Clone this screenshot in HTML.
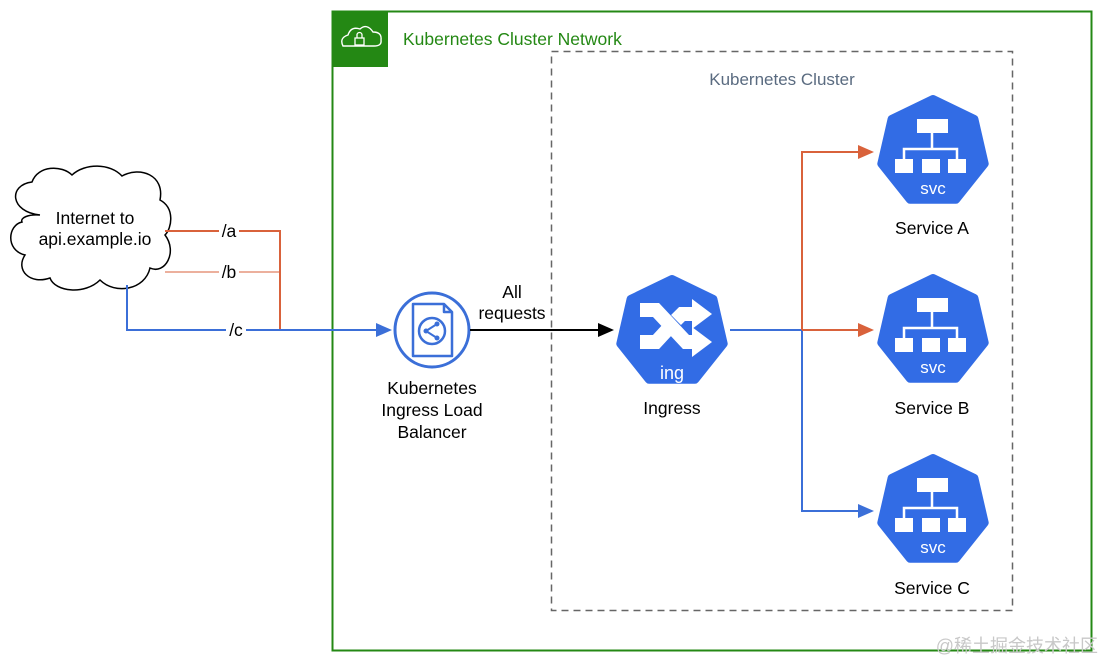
<!DOCTYPE html>
<html><head><meta charset="utf-8"><style>
html,body{margin:0;padding:0;background:#fff;}
svg{display:block;font-family:"Liberation Sans",Arial,sans-serif;}
</style></head><body>
<svg width="1103" height="662" viewBox="0 0 1103 662" xmlns="http://www.w3.org/2000/svg">
<defs>
<polygon id="hep" points="0,-53 41.4,-33 51.7,11.8 23,47.8 -23,47.8 -51.7,11.8 -41.4,-33" fill="#326ce5" stroke="#326ce5" stroke-width="8" stroke-linejoin="round"/>
<g id="svc">
<use href="#hep"/>
<rect x="-16" y="-33" width="31" height="14" fill="#fff"/>
<rect x="-38" y="7" width="18" height="14" fill="#fff"/>
<rect x="-11" y="7" width="18" height="14" fill="#fff"/>
<rect x="15" y="7" width="18" height="14" fill="#fff"/>
<path d="M-1,-19 V-3 M-29,7 V-3 H24 V7" stroke="#fff" stroke-width="2.5" fill="none"/>
<text x="0" y="42" font-size="17" fill="#fff" text-anchor="middle">svc</text>
</g>
</defs>
<rect x="332.5" y="11.5" width="759" height="639" fill="none" stroke="#248814" stroke-width="2"/>
<rect x="332" y="11" width="56" height="56" fill="#248814"/>
<path d="M343,46 q-4,-8 5,-11 q3,-9 12,-6 q7,-6 13,3 q9,0 8,8 q1,6 -7,6 z" fill="none" stroke="#fff" stroke-width="1.4"/>
<rect x="355" y="38" width="9" height="7" fill="none" stroke="#fff" stroke-width="1.3"/>
<path d="M357,38 v-3 a2.5,2.5 0 0 1 5,0 v3" fill="none" stroke="#fff" stroke-width="1.3"/>
<text x="403" y="45" font-size="17.5" fill="#248814">Kubernetes Cluster Network</text>
<rect x="551.5" y="51.5" width="461" height="559" fill="none" stroke="#666" stroke-width="1.5" stroke-dasharray="7,5"/>
<text x="782" y="85" font-size="17" fill="#5a6b80" text-anchor="middle">Kubernetes Cluster</text>
<path d="M40,215 C10,212 8,185 32,182 C38,165 62,165 72,175 C85,163 110,163 122,176 C140,166 165,175 160,200 C175,208 172,228 165,235 C178,252 165,275 150,268 C145,290 115,295 100,280 C85,295 55,292 50,278 C30,285 15,270 25,255 C5,250 8,225 22,222 C20,218 28,214 40,215 Z" fill="#fff" stroke="#000" stroke-width="1.5"/>
<text x="95" y="224" font-size="17.5" text-anchor="middle">Internet to</text>
<text x="95" y="245" font-size="17.5" text-anchor="middle">api.example.io</text>
<path d="M165,231 H280 V330" stroke="#d9623b" stroke-width="2" fill="none"/>
<path d="M165,272 H280" stroke="#d9623b" stroke-width="1" fill="none"/>
<path d="M127,285 V330 H382" stroke="#3b6fd8" stroke-width="2" fill="none"/>
<polygon points="376,323 392,330 376,337" fill="#3b6fd8"/>
<rect x="219" y="222" width="20" height="18" fill="#fff"/><text x="229" y="237" font-size="17.5" text-anchor="middle">/a</text>
<rect x="219" y="263" width="20" height="18" fill="#fff"/><text x="229" y="278" font-size="17.5" text-anchor="middle">/b</text>
<rect x="226" y="321" width="20" height="18" fill="#fff"/><text x="236" y="336" font-size="17.5" text-anchor="middle">/c</text>
<circle cx="432" cy="330" r="37" fill="#fff" stroke="#3b6fd8" stroke-width="3"/>
<path d="M413,304 H444 L452,312 V356 H413 Z M444,304 V312 H452" fill="none" stroke="#3b6fd8" stroke-width="2.5" stroke-linejoin="round"/>
<circle cx="432" cy="331" r="13" fill="none" stroke="#3b6fd8" stroke-width="2.5"/>
<path d="M426,331 L437,324 M426,331 L437,338" stroke="#3b6fd8" stroke-width="2"/>
<circle cx="426" cy="331" r="2.5" fill="#3b6fd8"/><circle cx="437" cy="324" r="2.5" fill="#3b6fd8"/><circle cx="437" cy="338" r="2.5" fill="#3b6fd8"/>
<text x="432" y="394" font-size="17.5" text-anchor="middle">Kubernetes</text>
<text x="432" y="416" font-size="17.5" text-anchor="middle">Ingress Load</text>
<text x="432" y="438" font-size="17.5" text-anchor="middle">Balancer</text>
<path d="M470,330 H600" stroke="#000" stroke-width="2"/>
<polygon points="598,323 614,330 598,337" fill="#000"/>
<text x="512" y="298" font-size="17.5" text-anchor="middle">All</text>
<text x="512" y="319" font-size="17.5" text-anchor="middle">requests</text>
<g transform="translate(672,332)">
<use href="#hep"/>
<path d="M-32,-22 H-16 L14,10 H22" stroke="#fff" stroke-width="14" fill="none"/>
<path d="M-32,10 H-16 L-4,-3 M4,-12 L10,-18 H22" stroke="#fff" stroke-width="14" fill="none"/>
<polygon points="20,-33 40,-18 20,-3" fill="#fff"/>
<polygon points="20,-5 40,10 20,25" fill="#fff"/>
<text x="0" y="47" font-size="18" fill="#fff" text-anchor="middle">ing</text>
</g>
<text x="672" y="414" font-size="17.5" text-anchor="middle">Ingress</text>
<path d="M730,330 H802 V511 H862" stroke="#3b6fd8" stroke-width="2" fill="none"/>
<polygon points="858,504 874,511 858,518" fill="#3b6fd8"/>
<path d="M802,330 V152 H862 M802,330 H862" stroke="#d9623b" stroke-width="2" fill="none"/>
<polygon points="858,145 874,152 858,159" fill="#d9623b"/>
<polygon points="858,323 874,330 858,337" fill="#d9623b"/>
<use href="#svc" x="933" y="152"/>
<use href="#svc" x="933" y="331"/>
<use href="#svc" x="933" y="511"/>
<text x="932" y="234" font-size="17.5" text-anchor="middle">Service A</text>
<text x="932" y="414" font-size="17.5" text-anchor="middle">Service B</text>
<text x="932" y="594" font-size="17.5" text-anchor="middle">Service C</text>
<text x="1098" y="652" font-size="18" fill="#c8c8c8" text-anchor="end" font-family="'Liberation Sans','Noto Sans CJK SC',sans-serif">@稀土掘金技术社区</text>
</svg>
</body></html>
